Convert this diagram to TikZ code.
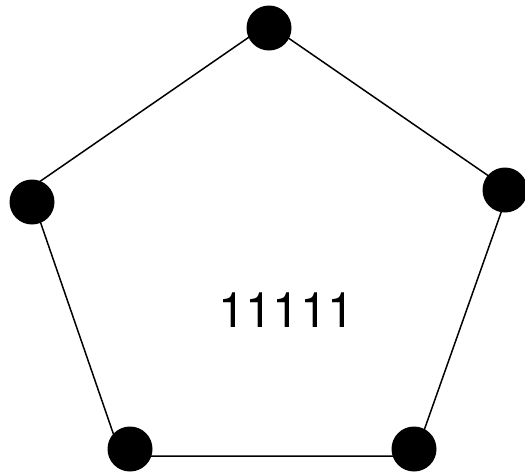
\documentclass[tikz,border=0pt]{standalone}
\usepackage{fontspec}
\setmainfont{TeX Gyre Heros}
\newfontfamily\labelfont{TeX Gyre Heros}
\usepackage{tikz}
\usetikzlibrary{positioning}
\tikzset{
	edge/.style={line width=1.5pt,black},
	dot/.style={circle,fill=black,inner sep=0pt,minimum size=45pt},
	numlabel/.style={font=\labelfont\fontsize{49}{59}\selectfont,anchor=base,inner sep=0pt}
}

\begin{document}
\begin{tikzpicture}[x=1pt,y=-1pt]
		
		% -------------------------------------------------
		% 1. Canvas
		% -------------------------------------------------
		\useasboundingbox (0,0) rectangle (525,472);
		
		% -------------------------------------------------
		% 2. Pentagon corners
		% -------------------------------------------------
		\coordinate (vtop) at (268,24);
		\coordinate (vright) at (509,190);
		\coordinate (vbr) at (415,456);
		\coordinate (vbl) at (121,456);
		\coordinate (vleft) at (29,189);
		
		% -------------------------------------------------
		% 3. Edges
		% -------------------------------------------------
		\draw[edge] (vtop) -- (vright) -- (vbr) -- (vbl) -- (vleft) -- cycle;
		
		% -------------------------------------------------
		% 4. Vertex dots
		% -------------------------------------------------
		\node[dot] (dtop) at (269,28) {};
		\node[dot] (dright) at (505,190) {};
		\node[dot] (dbr) at (414,449) {};
		\node[dot] (dbl) at (130,449) {};
		\node[dot] (dleft) at (32,202) {};
		
		% label in the middle
		\node[numlabel] (code) at (286.5,327) {11111};
		
	\end{tikzpicture}
\end{document}
